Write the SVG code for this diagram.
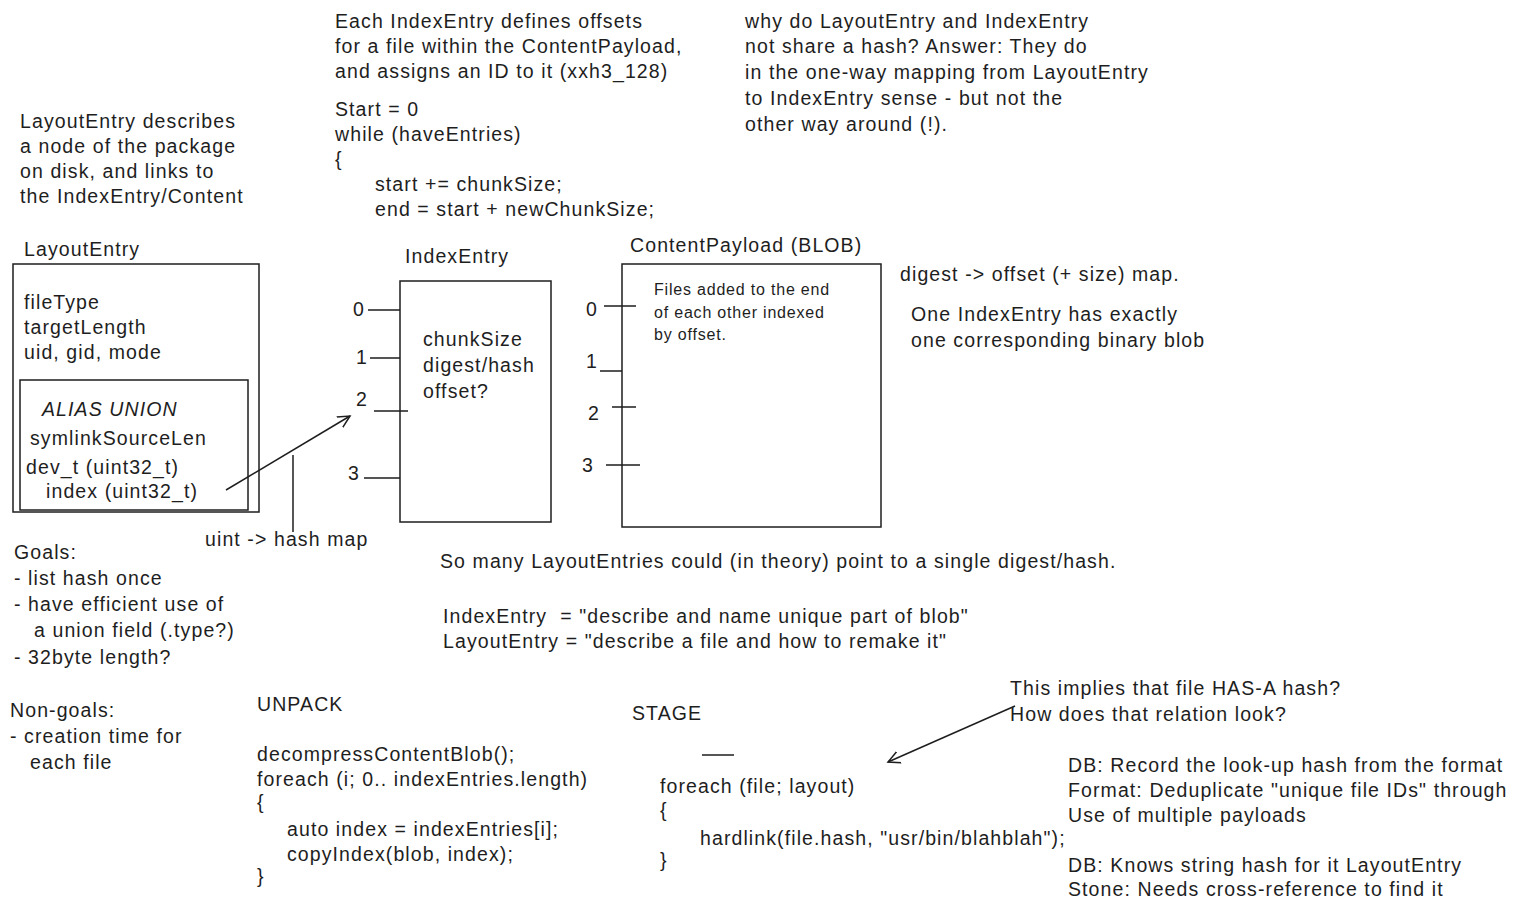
<svg xmlns="http://www.w3.org/2000/svg" width="1531" height="913" viewBox="0 0 1531 913">
<style>
text{font-family:"Liberation Sans",Arial,sans-serif;font-size:19.5px;letter-spacing:1.1px;fill:#1e1e1e}
.s{font-size:16px;letter-spacing:0.8px}
.b{fill:none;stroke:#1e1e1e;stroke-width:1.5}
</style>
<defs><marker id="ah" markerWidth="14" markerHeight="14" refX="12" refY="7" orient="auto" markerUnits="userSpaceOnUse"><path d="M0,1 L12,7 L0,13" fill="none" stroke="#1e1e1e" stroke-width="1.5"/></marker></defs>
<rect width="1531" height="913" fill="#fff"/>
<g id="notes">
<text x="20" y="128">LayoutEntry describes</text><text x="20" y="153">a node of the package</text><text x="20" y="178">on disk, and links to</text><text x="20" y="203">the IndexEntry/Content</text>
<text x="335" y="28">Each IndexEntry defines offsets</text><text x="335" y="53">for a file within the ContentPayload,</text><text x="335" y="78">and assigns an ID to it (xxh3_128)</text>
<text x="335" y="116">Start = 0</text><text x="335" y="141">while (haveEntries)</text><text x="335" y="166">{</text><text x="375" y="191">start += chunkSize;</text><text x="375" y="216">end = start + newChunkSize;</text>
<text x="745" y="28">why do LayoutEntry and IndexEntry</text><text x="745" y="53">not share a hash? Answer: They do</text><text x="745" y="79">in the one-way mapping from LayoutEntry</text><text x="745" y="105">to IndexEntry sense - but not the</text><text x="745" y="131">other way around (!).</text>
<text x="900" y="281">digest -&gt; offset (+ size) map.</text><text x="911" y="321">One IndexEntry has exactly</text><text x="911" y="347">one corresponding binary blob</text>
<text x="205" y="546">uint -&gt; hash map</text>
<text x="14" y="559">Goals:</text><text x="14" y="585">- list hash once</text><text x="14" y="611">- have efficient use of</text><text x="34" y="637">a union field (.type?)</text><text x="14" y="664">- 32byte length?</text>
<text x="10" y="717">Non-goals:</text><text x="10" y="743">- creation time for</text><text x="30" y="769">each file</text>
<text x="440" y="568">So many LayoutEntries could (in theory) point to a single digest/hash.</text>
<text x="443" y="623" xml:space="preserve">IndexEntry  = "describe and name unique part of blob"</text><text x="443" y="648">LayoutEntry = "describe a file and how to remake it"</text>
<text x="257" y="711">UNPACK</text><text x="257" y="761">decompressContentBlob();</text><text x="257" y="786">foreach (i; 0.. indexEntries.length)</text><text x="257" y="809">{</text><text x="287" y="836">auto index = indexEntries[i];</text><text x="287" y="861">copyIndex(blob, index);</text><text x="257" y="883">}</text>
<text x="632" y="720">STAGE</text><text x="660" y="793">foreach (file; layout)</text><text x="660" y="817">{</text><text x="700" y="845">hardlink(file.hash, "usr/bin/blahblah");</text><text x="660" y="867">}</text>
<text x="1010" y="695">This implies that file HAS-A hash?</text><text x="1010" y="721">How does that relation look?</text>
<text x="1068" y="772">DB: Record the look-up hash from the format</text><text x="1068" y="797">Format: Deduplicate "unique file IDs" through</text><text x="1068" y="822">Use of multiple payloads</text>
<text x="1068" y="872">DB: Knows string hash for it LayoutEntry</text><text x="1068" y="896">Stone: Needs cross-reference to find it</text>
</g>
<g id="layoutentry">
<text x="24" y="256">LayoutEntry</text>
<rect class="b" x="13" y="264" width="246" height="248"/>
<text x="24" y="309">fileType</text><text x="24" y="334">targetLength</text><text x="24" y="359">uid, gid, mode</text>
<rect class="b" x="20" y="380" width="228" height="130"/>
<text x="42" y="416" font-style="italic">ALIAS UNION</text><text x="30" y="445">symlinkSourceLen</text><text x="26" y="474">dev_t (uint32_t)</text><text x="46" y="498">index (uint32_t)</text>
</g>
<g id="indexentry">
<text x="405" y="263">IndexEntry</text>
<rect class="b" x="400" y="281" width="151" height="241"/>
<text x="423" y="346">chunkSize</text><text x="423" y="372">digest/hash</text><text x="423" y="398">offset?</text>
<text x="353" y="316">0</text><text x="356" y="364">1</text><text x="356" y="406">2</text><text x="348" y="480">3</text>
</g>
<g id="contentpayload">
<text x="630" y="252">ContentPayload (BLOB)</text>
<rect class="b" x="622" y="264" width="259" height="263"/>
<text class="s" x="654" y="295">Files added to the end</text><text class="s" x="654" y="318">of each other indexed</text><text class="s" x="654" y="340">by offset.</text>
<text x="586" y="316">0</text><text x="586" y="368">1</text><text x="588" y="420">2</text><text x="582" y="472">3</text>
</g>
<g id="connectors" class="b">
<path d="M368,310H400M370,358H400M374,411H408M364,478H400"/>
<path d="M604,306H636M600,371H622M612,407H636M606,465H640"/>
<path d="M226,490L350,416" marker-end="url(#ah)"/>
<path d="M293,455V532"/>
<path d="M702,755H734"/>
<path d="M1015,706L888,762" marker-end="url(#ah)"/>
</g>
</svg>
